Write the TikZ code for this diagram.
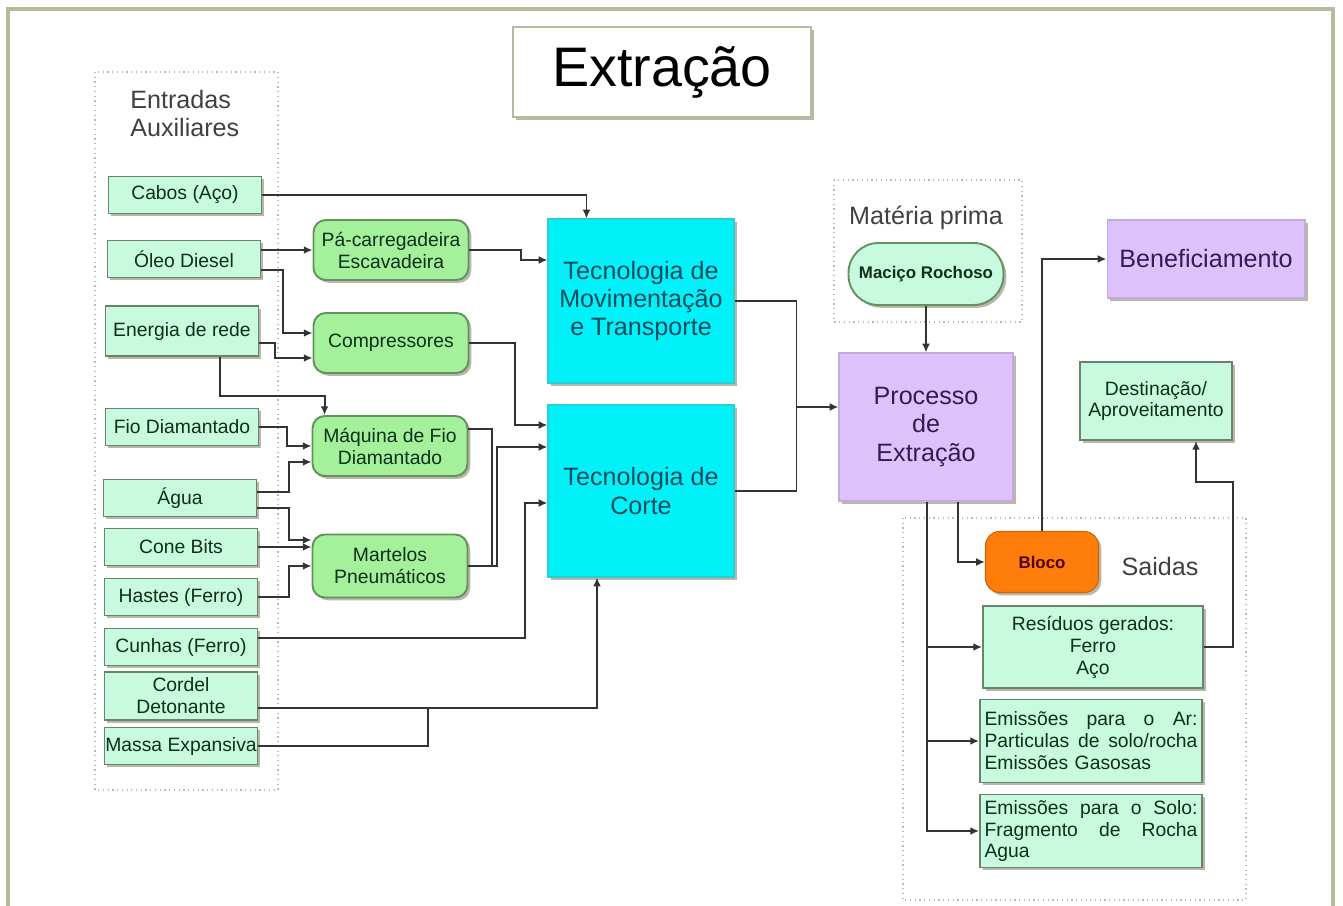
\documentclass[tikz,border=0pt]{standalone}
\usepackage{fontspec}
\setmainfont{Liberation Sans}
\usetikzlibrary{positioning,calc,shadows,arrows.meta}

\definecolor{entrada}{RGB}{200,250,224}
\definecolor{entradaborda}{RGB}{105,132,105}
\definecolor{verde}{RGB}{165,240,155}
\definecolor{verdeborda}{RGB}{100,145,95}
\definecolor{ciano}{RGB}{0,242,248}
\definecolor{lilas}{RGB}{222,192,252}
\definecolor{laranja}{RGB}{255,125,10}
\definecolor{moldura}{RGB}{185,185,155}
\definecolor{corsombra}{RGB}{125,125,100}
\definecolor{textoverde}{RGB}{12,48,26}
\definecolor{textoazul}{RGB}{10,75,95}
\definecolor{textolilas}{RGB}{55,25,85}

\tikzset{
  sombra/.style={drop shadow={shadow xshift=1.6pt,shadow yshift=-1.6pt,fill=corsombra,opacity=0.55}},
  titulo/.style={draw=moldura, line width=1.4pt, fill=white, sombra, inner sep=0pt,
    minimum width=5.96cm, minimum height=1.8cm, font=\fontsize{31.7}{36}\selectfont},
  grupo/.style={draw=gray!55, dotted, line width=0.7pt},
  rotulo/.style={inner sep=0pt, text=black!75, font=\fontsize{14.3}{16}\selectfont},
  entr/.style={draw=entradaborda, line width=1.1pt, fill=entrada, sombra, inner sep=0pt,
    minimum width=3.06cm, minimum height=0.74cm, align=center, text=textoverde,
    font=\fontsize{11}{12.5}\selectfont},
  equip/.style={draw=verdeborda, line width=1.1pt, fill=verde, sombra, rounded corners=7pt, inner sep=0pt,
    minimum width=3.1cm, minimum height=1.2cm, align=center, text=textoverde,
    font=\fontsize{11}{12.5}\selectfont},
  tecno/.style={draw=ciano!70!gray, line width=0.6pt, fill=ciano, sombra, inner sep=0pt,
    minimum width=3.72cm, align=center, text=textoazul, font=\fontsize{14.3}{16}\selectfont},
  proc/.style={draw=lilas!70!gray, line width=0.6pt, fill=lilas, sombra, inner sep=0pt,
    align=center, text=textolilas, font=\fontsize{14.3}{16}\selectfont},
  rocha/.style={draw=verdeborda, line width=1.1pt, fill=entrada, sombra, rounded corners=17pt, inner sep=0pt,
    minimum width=3.1cm, minimum height=1.24cm, text=textoverde, font=\bfseries\fontsize{9.6}{11}\selectfont},
  saida/.style={draw=laranja!80!black, line width=0.6pt, fill=laranja, sombra, rounded corners=8pt, inner sep=0pt,
    minimum width=2.26cm, minimum height=1.22cm, text=black!70!red, font=\bfseries\fontsize{9.6}{11}\selectfont},
  lig/.style={line width=1.1pt, draw=black!80},
  arr/.style={lig, -{Latex[length=5pt,width=4.5pt]}}
}

\begin{document}
\begin{tikzpicture}[x=0.02cm, y=-0.02cm]
\useasboundingbox (0,0) rectangle (1343,906);
\draw[moldura, line width=2.5pt] (8,906) -- (8,9) -- (1333,9) -- (1333,906);

% Titulo
\node[titulo] (titulo) at (662,72) {Extração};

% Entradas auxiliares
\draw[grupo] (95,72) rectangle (278,790);
\node[rotulo, anchor=north west, align=left] (entradas) at (130,90) {Entradas\\Auxiliares};
\node[entr] (cabos) at (185,195) {Cabos (Aço)};
\node[entr] (oleo) at (184,259) {Óleo Diesel};
\node[entr, minimum height=1cm] (energia) at (182,331) {Energia de rede};
\node[entr] (fio) at (182,427) {Fio Diamantado};
\node[entr] (agua) at (180,498) {Água};
\node[entr] (cone) at (181,547) {Cone Bits};
\node[entr] (hastes) at (181,597) {Hastes (Ferro)};
\node[entr] (cunhas) at (181,647) {Cunhas (Ferro)};
\node[entr, minimum height=0.96cm] (cordel) at (181,696) {Cordel\\Detonante};
\node[entr] (massa) at (181,746) {Massa Expansiva};

% Equipamentos
\node[equip] (pacarr) at (391,250) {Pá-carregadeira\\Escavadeira};
\node[equip] (compr) at (391,343) {Compressores};
\node[equip] (maquina) at (390,446) {Máquina de Fio\\Diamantado};
\node[equip, minimum height=1.26cm] (martelos) at (390,566) {Martelos\\Pneumáticos};

% Tecnologias
\node[tecno, minimum height=3.28cm] (tmov) at (641,301) {Tecnologia de\\Movimentação\\e Transporte};
\node[tecno, minimum height=3.44cm] (tcorte) at (641,491) {Tecnologia de\\Corte};

% Materia prima e processo
\draw[grupo] (834,180) rectangle (1022,322);
\node[rotulo] (materia) at (926,218) {Matéria prima};
\node[rocha] (macico) at (926,274) {Maciço Rochoso};
\node[proc, minimum width=3.48cm, minimum height=2.96cm] (processo) at (926,427) {Processo\\de\\Extração};
\node[proc, minimum width=3.96cm, minimum height=1.56cm] (benef) at (1206,259) {Beneficiamento};
\node[entr, minimum width=3.04cm, minimum height=1.56cm] (destin) at (1156,401) {Destinação/\\Aproveitamento};

% Saidas
\draw[grupo] (903,518) rectangle (1246,900);
\node[rotulo] (saidas) at (1160,567) {Saidas};
\node[saida] (bloco) at (1042,562) {Bloco};
\node[entr, minimum width=4.4cm, minimum height=1.64cm] (residuos) at (1093,647) {Resíduos gerados:\\Ferro\\Aço};
\node[entr, minimum width=4.44cm, minimum height=1.66cm, text width=4.26cm, align=left] (emar) at (1091,741)
  {\makebox[4.26cm][l]{Emissões\hfill para\hfill o\hfill Ar:}\\\makebox[4.26cm][l]{Particulas\hfill de\hfill solo/rocha}\\Emissões Gasosas};
\node[entr, minimum width=4.44cm, minimum height=1.46cm, text width=4.26cm, align=left] (emsolo) at (1091,831)
  {\makebox[4.26cm][l]{Emissões\hfill para\hfill o\hfill Solo:}\\\makebox[4.26cm][l]{Fragmento\hfill de\hfill Rocha}\\Agua};

% Ligacoes das entradas
\draw[arr] (cabos.east) -| ($(tmov.north west)+(39,0)$);
\draw[arr] (oleo.east |- pacarr.west) -- (pacarr.west);
\draw[arr] ($(oleo.east)+(0,11)$) -- ++(22,0) |- ($(compr.west)+(0,-10)$);
\draw[arr] ($(energia.east)+(0,12)$) -- ++(16,0) |- ($(compr.west)+(0,15)$);
\draw[arr] ($(energia.south)+(38,0)$) -- ++(0,39) -| ($(maquina.north west)+(13,0)$);
\draw[arr] (fio.east) -- ++(28,0) |- (maquina.west);
\draw[arr] ($(agua.east)+(0,-6)$) -- ++(32,0) |- ($(maquina.west)+(0,16)$);
\draw[arr] ($(agua.east)+(0,10)$) -- ++(32,0) |- ($(martelos.west)+(0,-26)$);
\draw[arr] (cone.east) -- (cone.east -| martelos.west);
\draw[arr] (hastes.east) -- ++(31,0) |- (martelos.west);
\draw[arr] ($(cunhas.east)+(0,-9)$) -- ++(267,0) |- ($(tcorte.west)+(0,12)$);
\draw[arr] ($(cordel.east)+(0,12)$) -| ($(tcorte.south)+(-44,0)$);
\draw[lig] (massa.east) -| ($(cordel.east)+(170,12)$);

% Ligacoes dos equipamentos
\draw[arr] (pacarr.east) -- ++(52,0) |- ($(tmov.west)+(0,-41)$);
\draw[arr] (compr.east) -- ++(46,0) |- ($(tcorte.west)+(0,-66)$);
\draw[lig] ($(maquina.east)+(0,-17)$) -- ++(24,0) |- (martelos.east);
\draw[arr] (martelos.east) -- ++(29,0) |- ($(tcorte.west)+(0,-44)$);

% Processo
\coordinate (jproc) at ($(processo.west)+(-42,-20)$);
\draw[lig] (tmov.east) -| (jproc);
\draw[lig] (tcorte.east) -| (jproc);
\draw[arr] (jproc) -- (processo.west |- jproc);
\draw[arr] (macico.south) -- (processo.north);
\draw[arr] ($(processo.south)+(32,0)$) |- (bloco.west);
\draw[arr] ($(processo.south)+(1,0)$) |- (residuos.west);
\draw[arr] ($(processo.south)+(1,0)$) |- (emar.west);
\draw[arr] ($(processo.south)+(1,0)$) |- (emsolo.west);
\draw[arr] (bloco.north) |- (benef.west);
\draw[arr] (residuos.east) -- ++(29,0) -- ++(0,-165) -| ($(destin.south)+(40,0)$);
\end{tikzpicture}
\end{document}
